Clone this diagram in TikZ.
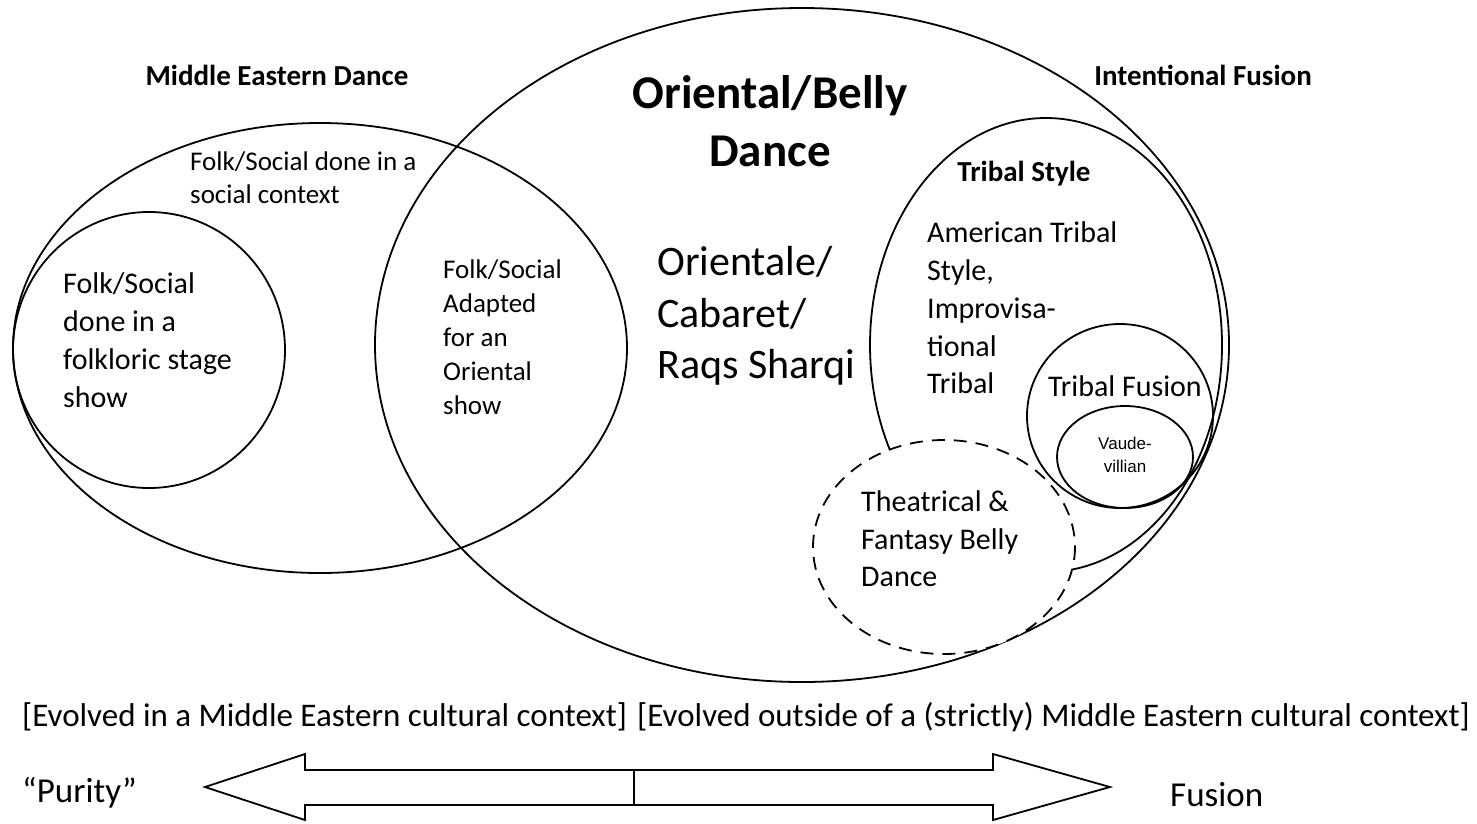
\documentclass[tikz,border=0pt]{standalone}
\usepackage{fontspec}
\setmainfont{Carlito}
\newfontfamily\arialf{Liberation Sans}
\tikzset{
  outline/.style={draw=black, line width=1.8pt},
  txt/.style={inner sep=0pt, align=left, anchor=west},
  ctxt/.style={inner sep=0pt, align=center},
}
\begin{document}
\begin{tikzpicture}[x=1pt,y=-1pt]
\useasboundingbox[fill=white] (0,0) rectangle (1477,823);
% left ellipse and inner circle
\draw[outline] (320,348) ellipse [x radius=307, y radius=225];
\draw[outline] (149,350) ellipse [x radius=136, y radius=138];
% big ellipse
\draw[outline] (802,345) ellipse [x radius=427, y radius=337];
% tribal style
\draw[outline] (1046,345) ellipse [x radius=176, y radius=227];
% dashed theatrical circle
\draw[outline, dash pattern=on 13pt off 9pt, fill=white] (944,547) ellipse [x radius=131, y radius=107];
% tribal fusion and vaudevillian
\draw[outline] (1120,416) ellipse [x radius=93, y radius=92];
\draw[outline] (1125,457) ellipse [x radius=68, y radius=51];

% texts
\node[ctxt, font=\fontsize{29}{33}\selectfont\bfseries] (med) at (277,75) {Middle Eastern Dance};
\node[ctxt, font=\fontsize{47}{58}\selectfont\bfseries] (obd) at (770,121) {Oriental/Belly\\Dance};
\node[ctxt, font=\fontsize{29}{33}\selectfont\bfseries] (inf) at (1203,75) {Intentional Fusion};
\node[txt, font=\fontsize{27}{33}\selectfont] (fsc) at (190,178) {Folk/Social done in a\\social context};
\node[txt, font=\fontsize{30}{38}\selectfont] (fss) at (63,340) {Folk/Social\\done in a\\folkloric stage\\show};
\node[txt, font=\fontsize{27}{34}\selectfont] (fsa) at (443,337) {Folk/Social\\Adapted\\for an\\Oriental\\show};
\node[txt, font=\fontsize{42}{51.5}\selectfont] (ocr) at (657,316) {Orientale/\\Cabaret/\\Raqs Sharqi};
\node[ctxt, font=\fontsize{29}{33}\selectfont\bfseries] (tst) at (1024,174) {Tribal Style};
\node[txt, font=\fontsize{30}{37.75}\selectfont] (ats) at (927,308) {American Tribal\\Style,\\Improvisa-\\tional\\Tribal};
\node[ctxt, font=\fontsize{30}{36}\selectfont] (tfu) at (1125,386) {Tribal Fusion};
\node[ctxt, font=\arialf\fontsize{17}{23}\selectfont] (vau) at (1125,455) {Vaude-\\villian};
\node[txt, font=\fontsize{30}{37.5}\selectfont] (tfb) at (861,539) {Theatrical \&\\Fantasy Belly\\Dance};
\node[txt, font=\fontsize{33}{36}\selectfont] (evi) at (22,717) {[Evolved in a Middle Eastern cultural context]};
\node[txt, font=\fontsize{33}{36}\selectfont] (evo) at (637,717) {[Evolved outside of a (strictly) Middle Eastern cultural context]};
\node[txt, font=\fontsize{35}{38}\selectfont] (pur) at (22,793) {“Purity”};
\node[txt, font=\fontsize{35}{38}\selectfont] (fus) at (1170,795) {Fusion};

% double block arrow
\draw[line width=1.8pt, line join=miter] (205,787) -- (305,754) -- (305,770) -- (993,770) -- (993,754) -- (1110,787) -- (993,820) -- (993,805) -- (305,805) -- (305,820) -- cycle;
\coordinate (dtop) at (634,770);
\coordinate (dbot) at (634,805);
\draw[line width=1.5pt] (dtop) -- (dbot);
\end{tikzpicture}
\end{document}
